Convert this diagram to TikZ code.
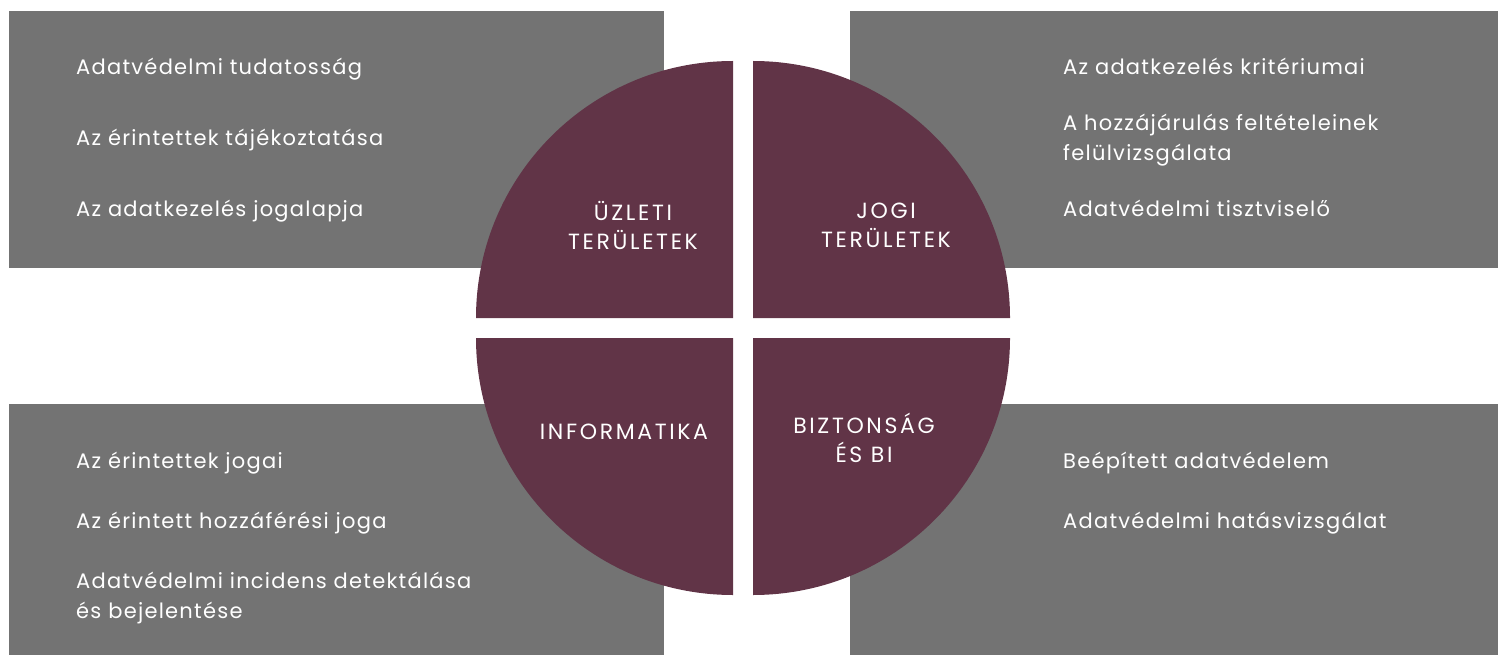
\documentclass[tikz,border=0pt]{standalone}
\usepackage{fontspec}
\setmainfont{Poppins}
\newfontfamily\itemfont{Poppins}[LetterSpace=6]
\newfontfamily\capsfont{Poppins}[LetterSpace=12]
\definecolor{boxgrey}{RGB}{115,115,115}
\definecolor{quadred}{RGB}{97,52,71}
\tikzset{
  itembox/.style={fill=boxgrey},
  quad/.style={fill=quadred},
  itemtext/.style={anchor=base west,inner sep=0pt,text=white,align=left,
    font=\itemfont\fontsize{21}{30}\selectfont},
  quadtext/.style={inner sep=0pt,text=white,align=center,
    font=\capsfont\fontsize{22}{29}\selectfont}
}

\begin{document}
\begin{tikzpicture}[x=1pt,y=-1pt]
  \useasboundingbox (0,0) rectangle (1498,655);

  % grey boxes behind the circle
  \fill[itembox] (9,11) rectangle (664,268);
  \fill[itembox] (850,11) rectangle (1498,268);
  \fill[itembox] (9,404) rectangle (664,655);
  \fill[itembox] (850,404) rectangle (1498,655);

  \def\r{257pt}
  \coordinate (ctl) at (733,318);
  \coordinate (ctr) at (753,318);
  \coordinate (cbl) at (733,338);
  \coordinate (cbr) at (753,338);

  % four quarters
  \fill[quad] (ctl) -- ++(-257,0) arc[start angle=180,end angle=90,radius=\r] -- cycle;
  \fill[quad] (ctr) -- ++(0,-257) arc[start angle=90,end angle=0,radius=\r] -- cycle;
  \fill[quad] (cbl) -- ++(-257,0) arc[start angle=180,end angle=270,radius=\r] -- cycle;
  \fill[quad] (cbr) -- ++(257,0) arc[start angle=0,end angle=-90,radius=\r] -- cycle;

  \node[quadtext] (uz)  at (633,225) {ÜZLETI\\TERÜLETEK};
  \node[quadtext] (jo)  at (886,225) {JOGI\\TERÜLETEK};
  \node[quadtext] (inf) at (624,432) {INFORMATIKA};
  \node[quadtext] (bi)  at (864,438) {BIZTONSÁG\\ÉS BI};

  % top left
  \node[itemtext] (tl1) at (76,75)  {Adatvédelmi tudatosság};
  \node[itemtext] (tl2) at (76,146) {Az érintettek tájékoztatása};
  \node[itemtext] (tl3) at (76,216) {Az adatkezelés jogalapja};

  % top right
  \node[itemtext] (tr1) at (1063,75)  {Az adatkezelés kritériumai};
  \node[itemtext] (tr2) at (1063,161) {A hozzájárulás feltételeinek\\felülvizsgálata};
  \node[itemtext] (tr3) at (1063,216) {Adatvédelmi tisztviselő};

  % bottom left
  \node[itemtext] (bl1) at (76,468) {Az érintettek jogai};
  \node[itemtext] (bl2) at (76,528) {Az érintett hozzáférési joga};
  \node[itemtext] (bl3) at (76,618) {Adatvédelmi incidens detektálása\\és bejelentése};

  % bottom right
  \node[itemtext] (br1) at (1063,468) {Beépített adatvédelem};
  \node[itemtext] (br2) at (1063,528) {Adatvédelmi hatásvizsgálat};
\end{tikzpicture}
\end{document}
